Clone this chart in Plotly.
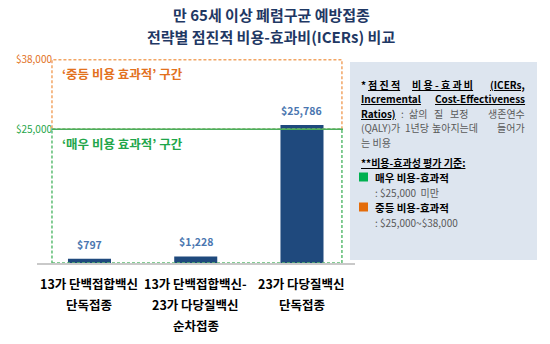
import plotly.graph_objects as go

# ---- data -----------------------------------------------------------------
categories = [
    "13가 단백접합백신<br>단독접종",
    "13가 단백접합백신-<br>23가 다당질백신<br>순차접종",
    "23가 다당질백신<br>단독접종",
]
icer_values = [797, 1228, 25786]
threshold_very = 25000      # 매우 비용-효과적 상한
threshold_moderate = 38000  # 중등 비용-효과적 상한
tick_labels = ["$25,000", "$38,000"]
title_lines = ["만 65세 이상 폐렴구균 예방접종", "전략별 점진적 비용-효과비(ICERs) 비교"]

# ---- styling --------------------------------------------------------------
FONT = "Noto Sans CJK KR"
BAR_COLOR = "#1f497d"
VALUE_COLOR = "#4a76b0"
GREEN = "#1fa64a"
ORANGE = "#e2711d"
SQ_GREEN = "#00b050"
SQ_ORANGE = "#e46c0a"
GREEN_DASH = "#5cbc72"
ORANGE_DASH = "#f2a564"
GRAY_TEXT = "#595959"
TITLE_COLOR = "#1f3864"

W, H = 550, 344
ML, MR, MT, MB = 37, 195, 57, 81
PW, PH = W - ML - MR, H - MT - MB


def px_x(px):
    return (px - ML) / PW


def px_y(py):
    return (H - MB - py) / PH


x_idx = list(range(len(categories)))

fig = go.Figure()
fig.add_trace(go.Bar(
    x=x_idx, y=icer_values, width=0.405,
    marker=dict(color=BAR_COLOR, line=dict(width=0)),
    hoverinfo="skip", showlegend=False,
))

# value labels above each bar
for xi, v in zip(x_idx, icer_values):
    fig.add_annotation(x=xi, y=v, text=f"<b>${v:,}</b>", showarrow=False,
                       yanchor="bottom", yshift=5,
                       font=dict(family=FONT, size=10.5, color=VALUE_COLOR))

# cost-effectiveness zones
box_x0, box_x1 = -0.353, 2.376
fig.add_shape(type="rect", x0=box_x0, x1=box_x1, y0=threshold_very, y1=threshold_moderate,
              xref="x", yref="y", line=dict(color=ORANGE_DASH, width=1.5, dash="3px,2px"))
fig.add_shape(type="rect", x0=box_x0, x1=box_x1, y0=0, y1=threshold_very,
              xref="x", yref="y", line=dict(color=GREEN_DASH, width=1.5, dash="3px,2px"))
fig.add_shape(type="line", x0=box_x0, x1=box_x1 + 0.01, y0=threshold_very, y1=threshold_very,
              xref="x", yref="y", line=dict(color="#4cae5c", width=1.5))

fig.add_annotation(x=box_x0, y=threshold_moderate, xref="x", yref="y",
                   text="<b>‘중등 비용 효과적’ 구간</b>", showarrow=False,
                   xanchor="left", yanchor="top", xshift=8, yshift=-2,
                   font=dict(family=FONT, size=12.5, color=ORANGE))
fig.add_annotation(x=box_x0, y=threshold_very, xref="x", yref="y",
                   text="<b>‘매우 비용 효과적’ 구간</b>", showarrow=False,
                   xanchor="left", yanchor="top", xshift=8, yshift=-3,
                   font=dict(family=FONT, size=12.5, color=GREEN))

# category labels, one annotation per line for wider line spacing
cat_line_y = [283, 304, 325]
for xi, cat in zip(x_idx, categories):
    for li, line in enumerate(cat.split("<br>")):
        fig.add_annotation(x=xi, y=px_y(cat_line_y[li]), xref="x", yref="paper",
                           text=f"<b>{line}</b>", showarrow=False,
                           xanchor="center", yanchor="middle",
                           font=dict(family=FONT, size=12.5, color="#000000"))

# two-line heading
for py, line in zip([14, 36], title_lines):
    fig.add_annotation(x=px_x(271), y=px_y(py), xref="paper", yref="paper",
                       text=f"<b>{line}</b>", showarrow=False,
                       xanchor="center", yanchor="middle",
                       font=dict(family=FONT, size=15, color=TITLE_COLOR))

# ---- explanatory side panel ---------------------------------------------
fig.add_shape(type="rect", xref="paper", yref="paper",
              x0=px_x(350), x1=px_x(537), y0=px_y(260), y1=px_y(62),
              fillcolor="#dde5ef", line=dict(width=0), layer="below")

NB = "\u00a0"
BLACK = "#000000"
L, R = 359, 527

# (y, x, anchor, text, colour, size) -- justified lines are laid out word by word
panel_items = [
    (84, L, "left", "<b>*</b>", BLACK, 10),
    (84, 366, "left", f"<b><u>점{NB}진{NB}적</u></b>", BLACK, 10),
    (84, 475, "right", f"<b><u>비{NB}용{NB}-{NB}효{NB}과{NB}비</u></b>", BLACK, 10),
    (84, R, "right", "<b><u>(ICERs,</u></b>", BLACK, 10),
    (98.5, L, "left", "<b><u>Incremental</u></b>", BLACK, 10),
    (98.5, R, "right", "<b><u>Cost-Effectiveness</u></b>", BLACK, 10),
    (113, L, "left", "<b><u>Ratios)</u></b>", BLACK, 10),
    (113, 399, "left", ":", GRAY_TEXT, 10),
    (113, 407, "left", "삶의", GRAY_TEXT, 10),
    (113, 432, "left", "질", GRAY_TEXT, 10),
    (113, 448, "left", "보정", GRAY_TEXT, 10),
    (113, R, "right", "생존연수", GRAY_TEXT, 10),
    (127.5, L, "left", "(QALY)가", GRAY_TEXT, 10),
    (127.5, 403, "left", "1년당", GRAY_TEXT, 10),
    (127.5, 430, "left", "높아지는데", GRAY_TEXT, 10),
    (127.5, R, "right", "들어가", GRAY_TEXT, 10),
    (142, L, "left", "는 비용", GRAY_TEXT, 10),
    (162, L, "left", "<b><u>**비용-효과성 평가 기준:</u></b>", BLACK, 10),
    (177, 373, "left", "<b>매우 비용-효과적</b>", BLACK, 10.5),
    (192, 373, "left", f":{NB}$25,000{NB}{NB}미만", GRAY_TEXT, 10),
    (207, 373, "left", "<b>중등 비용-효과적</b>", BLACK, 10.5),
    (222, 373, "left", f":{NB}$25,000~$38,000", GRAY_TEXT, 10),
]
for py, px, anchor, txt, col, size in panel_items:
    fig.add_annotation(x=px_x(px), y=px_y(py), xref="paper", yref="paper",
                       text=txt, showarrow=False, xanchor=anchor, yanchor="middle",
                       font=dict(family=FONT, size=size, color=col))

# colour keys next to the criteria
for py, col in [(177, SQ_GREEN), (207, SQ_ORANGE)]:
    fig.add_shape(type="rect", xref="paper", yref="paper",
                  x0=px_x(359), x1=px_x(368), y0=px_y(py + 4.5), y1=px_y(py - 4.5),
                  fillcolor=col, line=dict(width=0))

fig.update_layout(
    width=W, height=H,
    margin=dict(l=ML, r=MR, t=MT, b=MB),
    paper_bgcolor="white", plot_bgcolor="white",
    xaxis=dict(range=[-0.494, 2.499], showticklabels=False, showgrid=False,
               zeroline=False, showline=True, linecolor="#c9c9c9", linewidth=2,
               fixedrange=True),
    yaxis=dict(range=[0, 38500], showgrid=False, zeroline=False, showline=False,
               anchor="free", position=px_x(52),
               tickvals=[threshold_very, threshold_moderate],
               ticktext=[f"<span style='color:{GREEN}'>{tick_labels[0]}</span>",
                         f"<span style='color:{ORANGE}'>{tick_labels[1]}</span>"],
               ticks="", tickfont=dict(family=FONT, size=10), fixedrange=True),
    font=dict(family=FONT),
)

fig.write_html("out.html")
